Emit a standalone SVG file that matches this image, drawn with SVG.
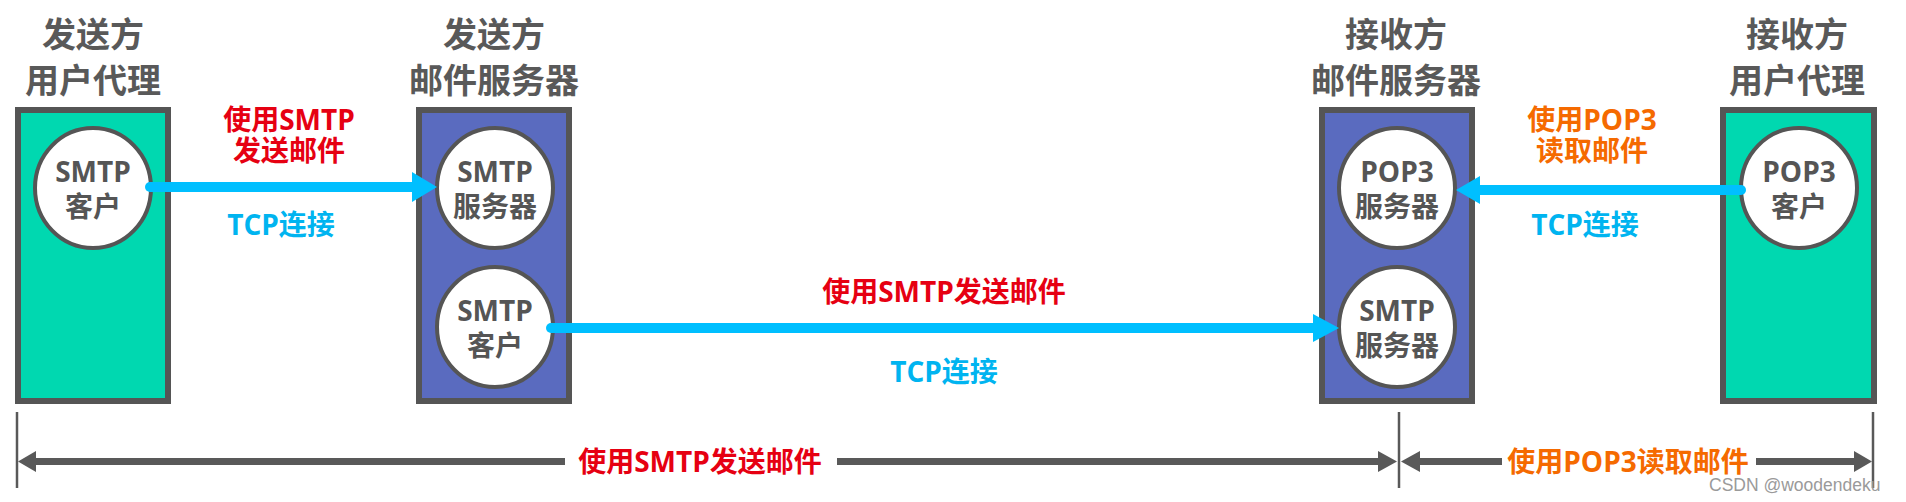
<svg xmlns="http://www.w3.org/2000/svg" width="1906" height="502" viewBox="0 0 1906 502">
<style>
  text { font-family: "Open Sans", "Noto Sans CJK SC", sans-serif; font-weight: 700; text-anchor: middle; }
  .title { font-size: 34px; fill: #595959; }
  .inner { font-size: 28px; fill: #555555; }
  .red { font-size: 28px; fill: #e60012; }
  .orange { font-size: 28px; fill: #f56a00; }
  .cyan { font-size: 28px; fill: #00b4f0; }
  .ua { fill: #00d8b0; stroke: #555555; stroke-width: 6; }
  .srv { fill: #5a6bbf; stroke: #555555; stroke-width: 6; }
  .proc { fill: #ffffff; stroke: #555555; stroke-width: 4; }
  .flow { stroke: #00bfff; stroke-width: 10; fill: none; }
  .flowhead { fill: #00bfff; }
  .dim { stroke: #595959; stroke-width: 7; fill: none; }
  .dimhead { fill: #595959; }
  .tick { stroke: #595959; stroke-width: 2.5; }
  .wm { font-family: "Liberation Sans", Arial, sans-serif; font-weight: 400; font-size: 17.5px; fill: #9a9a9a; text-anchor: start; }
</style>

<g id="sender-ua">
  <text class="title" x="93" y="47">发送方</text>
  <text class="title" x="93" y="93">用户代理</text>
  <rect class="ua" x="18" y="110" width="150" height="291"/>
  <ellipse class="proc" cx="93" cy="188" rx="58" ry="60"/>
  <text class="inner" x="93" y="182">SMTP</text>
  <text class="inner" x="93" y="217">客户</text>
</g>

<g id="sender-server">
  <text class="title" x="494" y="47">发送方</text>
  <text class="title" x="494" y="93">邮件服务器</text>
  <rect class="srv" x="419" y="110" width="150" height="291"/>
  <ellipse class="proc" cx="495" cy="188" rx="58" ry="60"/>
  <text class="inner" x="495" y="182">SMTP</text>
  <text class="inner" x="495" y="217">服务器</text>
  <ellipse class="proc" cx="495" cy="327" rx="58" ry="60"/>
  <text class="inner" x="495" y="321">SMTP</text>
  <text class="inner" x="495" y="356">客户</text>
</g>

<g id="receiver-server">
  <text class="title" x="1396" y="47">接收方</text>
  <text class="title" x="1396" y="93">邮件服务器</text>
  <rect class="srv" x="1322" y="110" width="150" height="291"/>
  <ellipse class="proc" cx="1397" cy="188" rx="58" ry="60"/>
  <text class="inner" x="1397" y="182">POP3</text>
  <text class="inner" x="1397" y="217">服务器</text>
  <ellipse class="proc" cx="1397" cy="327" rx="58" ry="60"/>
  <text class="inner" x="1397" y="321">SMTP</text>
  <text class="inner" x="1397" y="356">服务器</text>
</g>

<g id="receiver-ua">
  <text class="title" x="1797" y="47">接收方</text>
  <text class="title" x="1797" y="93">用户代理</text>
  <rect class="ua" x="1723" y="110" width="151" height="291"/>
  <ellipse class="proc" cx="1799" cy="188" rx="58" ry="60"/>
  <text class="inner" x="1799" y="182">POP3</text>
  <text class="inner" x="1799" y="217">客户</text>
</g>

<g id="connectors">
  <line class="flow" x1="150" y1="187" x2="413" y2="187" stroke-linecap="round"/>
  <polygon class="flowhead" points="412,172 437,187 412,202"/>
  <line class="flow" x1="551" y1="328" x2="1314" y2="328" stroke-linecap="round"/>
  <polygon class="flowhead" points="1313,314 1339,328 1313,342"/>
  <line class="flow" x1="1741" y1="190" x2="1479" y2="190" stroke-linecap="round"/>
  <polygon class="flowhead" points="1480,176 1456,190 1480,204"/>

  <line class="tick" x1="17" y1="412" x2="17" y2="488"/>
  <line class="tick" x1="1399" y1="412" x2="1399" y2="488"/>
  <line class="tick" x1="1873" y1="412" x2="1873" y2="488"/>

  <polygon class="dimhead" points="36,451 18,461.5 36,472"/>
  <line class="dim" x1="35" y1="461.5" x2="565" y2="461.5"/>
  <line class="dim" x1="837" y1="461.5" x2="1379" y2="461.5"/>
  <polygon class="dimhead" points="1378,451 1397,461.5 1378,472"/>

  <polygon class="dimhead" points="1420,451 1401,461.5 1420,472"/>
  <line class="dim" x1="1419" y1="461.5" x2="1502" y2="461.5"/>
  <line class="dim" x1="1756" y1="461.5" x2="1855" y2="461.5"/>
  <polygon class="dimhead" points="1854,451 1872,461.5 1854,472"/>
</g>

<g id="labels">
  <text class="red" x="289" y="130">使用SMTP</text>
  <text class="red" x="289" y="161">发送邮件</text>
  <text class="cyan" x="281" y="235">TCP连接</text>

  <text class="red" x="944" y="302">使用SMTP发送邮件</text>
  <text class="cyan" x="944" y="382">TCP连接</text>

  <text class="orange" x="1592" y="130">使用POP3</text>
  <text class="orange" x="1592" y="161">读取邮件</text>
  <text class="cyan" x="1585" y="235">TCP连接</text>

  <text class="red" x="700" y="472">使用SMTP发送邮件</text>
  <text class="orange" x="1628" y="472">使用POP3读取邮件</text>

  <text class="wm" x="1709" y="491">CSDN @woodendeku</text>
</g>
</svg>
